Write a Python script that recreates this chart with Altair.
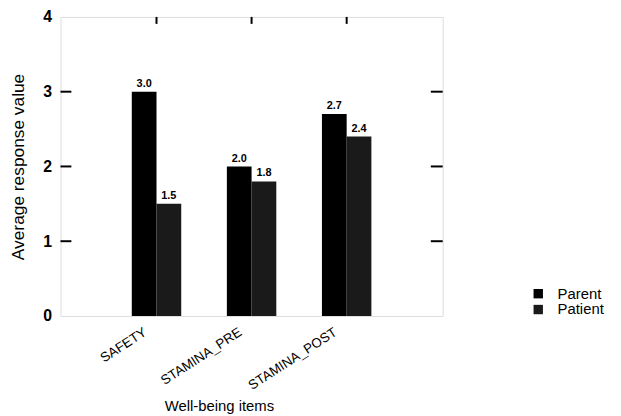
import altair as alt
import pandas as pd

items = ["SAFETY", "STAMINA_PRE", "STAMINA_POST"]
groups = ["Parent", "Patient"]
parent = [3.0, 2.0, 2.7]
patient = [1.5, 1.8, 2.4]
y_ticks = [0, 1, 2, 3, 4]
inner_ticks = [1, 2, 3]

rows = []
for i, it in enumerate(items):
    rows.append({"item": it, "group": "Parent", "value": parent[i]})
    rows.append({"item": it, "group": "Patient", "value": patient[i]})
df = pd.DataFrame(rows)
df_items = pd.DataFrame({"item": items})
df_ticks = pd.DataFrame({"v": inner_ticks})

W, H = 386, 302
FONT = "Liberation Sans"

xscale = alt.Scale(domain=items, paddingInner=0.48, paddingOuter=0.75)
yscale = alt.Scale(domain=[0, 4], nice=False)

x_enc = alt.X(
    "item:N",
    scale=xscale,
    sort=items,
    axis=alt.Axis(
        title="Well-being items",
        labelAngle=-33,
        labelAlign="right",
        labelBaseline="top",
        labelOffset=-15,
        labelPadding=9,
        labelFontSize=13.5,
        labelFont=FONT,
        labelColor="black",
        ticks=False,
        domain=False,
        titleFont=FONT,
        titleFontSize=15,
        titleFontWeight="normal",
        titleColor="black",
        titleX=160,
        titleY=95,
        titleAnchor="middle",
        titleBaseline="alphabetic",
        titleAlign="center",
    ),
)

bars = alt.Chart(df).mark_bar(stroke=None).encode(
    x=x_enc,
    xOffset=alt.XOffset("group:N", sort=groups, scale=alt.Scale(paddingInner=0, paddingOuter=0)),
    y=alt.Y(
        "value:Q",
        scale=yscale,
        axis=alt.Axis(
            title="Average response value",
            values=y_ticks,
            format="d",
            ticks=False,
            domain=False,
            grid=False,
            labelFont=FONT,
            labelFontSize=16,
            labelFontWeight="bold",
            labelColor="black",
            labelPadding=9,
            titleFont=FONT,
            titleFontSize=17.5,
            titleFontWeight="normal",
            titleColor="black",
            titleX=-42,
            titleY=H / 2,
            titleAngle=-90,
            titleAlign="center",
            titleBaseline="middle",
        ),
    ),
    color=alt.Color(
        "group:N",
        sort=groups,
        scale=alt.Scale(domain=groups, range=["#000000", "#1a1a1a"]),
        legend=alt.Legend(
            title=None,
            orient="none",
            legendX=475,
            legendY=272,
            padding=0,
            symbolType="square",
            symbolSize=90,
            symbolStrokeWidth=0,
            labelFont=FONT,
            labelFontSize=15,
            labelColor="black",
            labelOffset=12,
            rowPadding=0,
        ),
    ),
)

labels = alt.Chart(df).mark_text(
    baseline="bottom", dy=-3, font=FONT, fontSize=11, fontWeight="bold", color="black"
).encode(
    x=alt.X("item:N", scale=xscale, sort=items),
    xOffset=alt.XOffset("group:N", sort=groups),
    y=alt.Y("value:Q", scale=yscale),
    text=alt.Text("value:Q", format=".1f"),
)

top_ticks = alt.Chart(df_items).mark_rule(color="black", strokeWidth=2).encode(
    x=alt.X("item:N", scale=xscale, sort=items),
    y=alt.value(0),
    y2=alt.value(7),
)

left_ticks = alt.Chart(df_ticks).mark_rule(color="black", strokeWidth=2).encode(
    y=alt.Y("v:Q", scale=yscale),
    x=alt.value(0),
    x2=alt.value(11),
)

right_ticks = alt.Chart(df_ticks).mark_rule(color="black", strokeWidth=2).encode(
    y=alt.Y("v:Q", scale=yscale),
    x=alt.value(W - 12),
    x2=alt.value(W),
)

chart = alt.layer(bars, labels, top_ticks, left_ticks, right_ticks).properties(
    width=W,
    height=H,
    autosize=alt.AutoSizeParams(type="none"),
    padding={"left": 53, "top": 7, "right": 172, "bottom": 99},
).configure_view(
    stroke="black", strokeWidth=2
).configure(background="white")

chart.save("out.html", embed_options={"renderer": "svg", "actions": False})
